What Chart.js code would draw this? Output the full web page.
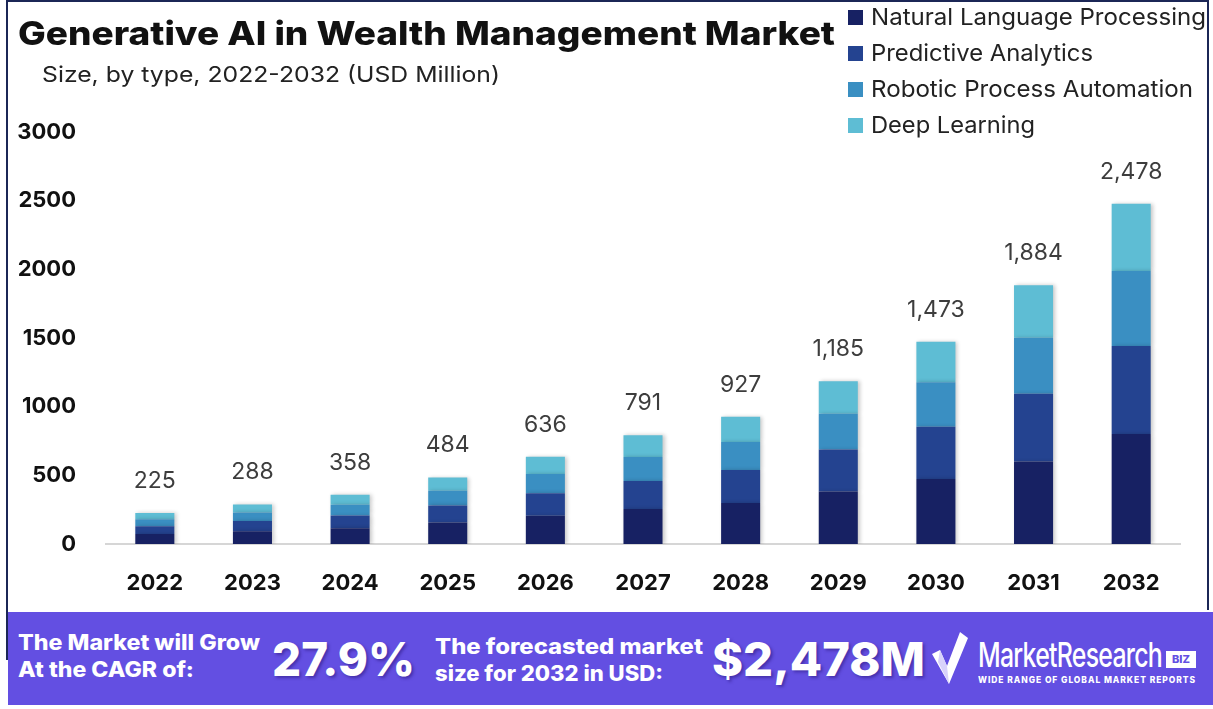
<!DOCTYPE html>
<html>
<head>
<meta charset="utf-8">
<script src="https://cdn.jsdelivr.net/npm/chart.js@4.4.0/dist/chart.umd.min.js"></script>
<style>
  html, body { margin: 0; padding: 0; background: #fff; }
  body { width: 1213px; height: 709px; position: relative; overflow: hidden; font-family: "Inter", "Noto Sans", sans-serif; }
  #frame { position: absolute; left: 6px; top: 0; width: 1203px; height: 610px; border-top: 2px solid #1b2656; border-left: 2px solid #1b2656; border-right: 2px solid #1b2656; box-sizing: border-box; }
  #leftTail { position: absolute; left: 6px; top: 610px; width: 2px; height: 50px; background: #1b2656; }
  #chartBox { position: absolute; left: 0; top: 0; width: 1213px; height: 612px; }
  .fit { transform-origin: left center; display: inline-block; }
  #title { position: absolute; left: 18px; top: 13px; font-size: 33px; font-weight: 800; color: #111; white-space: nowrap; }
  #subtitle { position: absolute; left: 42px; top: 61px; font-size: 22px; color: #222; white-space: nowrap; }
  #legend { position: absolute; left: 848px; top: -1px; }
  .lg { height: 36px; display: flex; align-items: center; font-size: 23px; color: #222; white-space: nowrap; }
  .lg span.sw { width: 15px; height: 15px; margin-right: 8px; display: inline-block; flex: none; }
  #footer { position: absolute; left: 8px; top: 612px; width: 1205px; height: 93px; background: #634fe2; color: #fff; }
  .ft { position: absolute; font-weight: 800; white-space: nowrap; }
  .small { font-size: 21px; line-height: 27px; }
  .big { font-size: 46px; top: 19px; text-shadow: 2px 2px 3px rgba(40,20,120,0.5); }
</style>
</head>
<body>
<div id="chartBox"><canvas id="grafico" width="1213" height="612"></canvas></div>
<div id="frame"></div>
<div id="leftTail"></div>
<div id="title" class="fit" data-w="817">Generative AI in Wealth Management Market</div>
<div id="subtitle" class="fit" data-w="458">Size, by type, 2022-2032 (USD Million)</div>
<div id="legend"></div>
<div id="footer">
  <div class="ft small" style="left:10px; top:17px;">
    <div class="fit" data-w="242">The Market will Grow</div><br>
    <div class="fit" data-w="176">At the CAGR of:</div>
  </div>
  <div class="ft big fit" data-w="143" style="left:264px;">27.9%</div>
  <div class="ft small" style="left:427px; top:21px;">
    <div class="fit" data-w="268">The forecasted market</div><br>
    <div class="fit" data-w="228">size for 2032 in USD:</div>
  </div>
  <div class="ft big fit" data-w="213" style="left:704px;">$2,478M</div>
  <svg style="position:absolute; left:924px; top:20px;" width="36" height="52" viewBox="0 0 36 52">
    <polygon points="0,22 8,18 15,34 28,0 36,6 17,52" fill="#ffffff"/>
    <polygon points="8,18 15,34 17,52 6,30" fill="#d8d2fb"/>
  </svg>
  <div class="ft fit" data-w="184" style="left:970px; top:22px; font-size:34px; font-weight:500; letter-spacing:-1px;">MarketResearch</div>
  <div class="ft" style="left:1158px; top:39px; width:30px; height:17px; background:#fff; color:#634fe2; font-size:11px; text-align:center; line-height:17px;">BIZ</div>
  <div class="ft fit" data-w="218" style="left:970px; top:62px; font-size:9px; letter-spacing:1px;">WIDE RANGE OF GLOBAL MARKET REPORTS</div>
</div>
<script>
// dados (USD Milhões)
const anos = ['2022', '2023', '2024', '2025', '2026', '2027', '2028', '2029', '2030', '2031', '2032'];
const totais = [225, 288, 358, 484, 636, 791, 927, 1185, 1473, 1884, 2478];
const nlp = [72, 93, 115, 156, 205, 255, 299, 382, 474, 600, 801];
const analiticaPreditiva = [58, 74, 92, 125, 164, 204, 239, 306, 380, 494, 640];
const automacaoRobotica = [50, 63, 79, 106, 140, 174, 204, 261, 324, 408, 546];
const deepLearning = [45, 58, 72, 97, 127, 158, 185, 236, 295, 382, 491];
const marcasEixoY = [0, 500, 1000, 1500, 2000, 2500, 3000];

const series = [
  { nome: 'Natural Language Processing', dados: nlp, cor: '#172163' },
  { nome: 'Predictive Analytics', dados: analiticaPreditiva, cor: '#244390' },
  { nome: 'Robotic Process Automation', dados: automacaoRobotica, cor: '#3a8fc2' },
  { nome: 'Deep Learning', dados: deepLearning, cor: '#5ebdd4' }
];
const largurasLegenda = [335, 222, 322, 164];

// legenda em HTML
const legenda = document.getElementById('legend');
series.forEach((s, i) => {
  const linha = document.createElement('div');
  linha.className = 'lg';
  linha.innerHTML = '<span class="sw" style="background:' + s.cor + '"></span>' +
    '<span class="fit" data-w="' + largurasLegenda[i] + '">' + s.nome + '</span>';
  legenda.appendChild(linha);
});

// ajusta a largura dos textos ao original
document.querySelectorAll('.fit').forEach(el => {
  const alvo = parseFloat(el.dataset.w);
  const atual = el.getBoundingClientRect().width;
  if (atual > 0) el.style.transform = 'scaleX(' + (alvo / atual) + ')';
});

// sombra leve nas barras
const sombra = {
  id: 'sombra',
  beforeDatasetsDraw(chart) {
    const ctx = chart.ctx;
    ctx.save();
    ctx.shadowColor = 'rgba(0,0,0,0.22)';
    ctx.shadowBlur = 4;
    ctx.shadowOffsetX = 2;
    ctx.shadowOffsetY = 0;
  },
  afterDatasetsDraw(chart) {
    chart.ctx.restore();
  }
};

// totais acima de cada barra
const rotulosTotais = {
  id: 'rotulosTotais',
  afterDatasetsDraw(chart) {
    const ctx = chart.ctx;
    const meta = chart.getDatasetMeta(series.length - 1);
    ctx.save();
    ctx.fillStyle = '#3d3d3d';
    ctx.font = '23px "Inter", "Noto Sans", sans-serif';
    ctx.textAlign = 'center';
    ctx.textBaseline = 'middle';
    meta.data.forEach((barra, i) => {
      const y = chart.scales.y.getPixelForValue(totais[i]);
      ctx.fillText(totais[i].toLocaleString('en-US'), barra.x, y - 32);
    });
    ctx.restore();
  }
};

const ctx = document.getElementById('grafico').getContext('2d');
new Chart(ctx, {
  type: 'bar',
  data: {
    labels: anos,
    datasets: series.map(s => ({
      label: s.nome,
      data: s.dados,
      backgroundColor: s.cor,
      borderWidth: 0,
      barPercentage: 0.8,
      categoryPercentage: 0.5
    }))
  },
  options: {
    responsive: false,
    animation: false,
    layout: { padding: { top: 132, right: 33, left: 0, bottom: 0 } },
    plugins: {
      legend: { display: false },
      tooltip: { enabled: false }
    },
    scales: {
      x: {
        stacked: true,
        grid: { display: false, drawTicks: false },
        border: { display: true, color: '#d6d6d6', width: 2 },
        ticks: { color: '#111', font: { family: 'Inter', size: 22, weight: 'bold' }, padding: 26 },
        afterFit(scale) { scale.height = 68; }
      },
      y: {
        stacked: true,
        min: 0,
        max: 3000,
        afterBuildTicks(scale) { scale.ticks = marcasEixoY.map(v => ({ value: v })); },
        grid: { display: false, drawTicks: false },
        border: { display: false },
        ticks: {
          color: '#111',
          font: { family: 'Inter', size: 22, weight: 'bold' },
          padding: 30,
          callback: v => String(v)
        },
        afterFit(scale) { scale.width = 106; }
      }
    }
  },
  plugins: [sombra, rotulosTotais]
});
</script>
</body>
</html>
